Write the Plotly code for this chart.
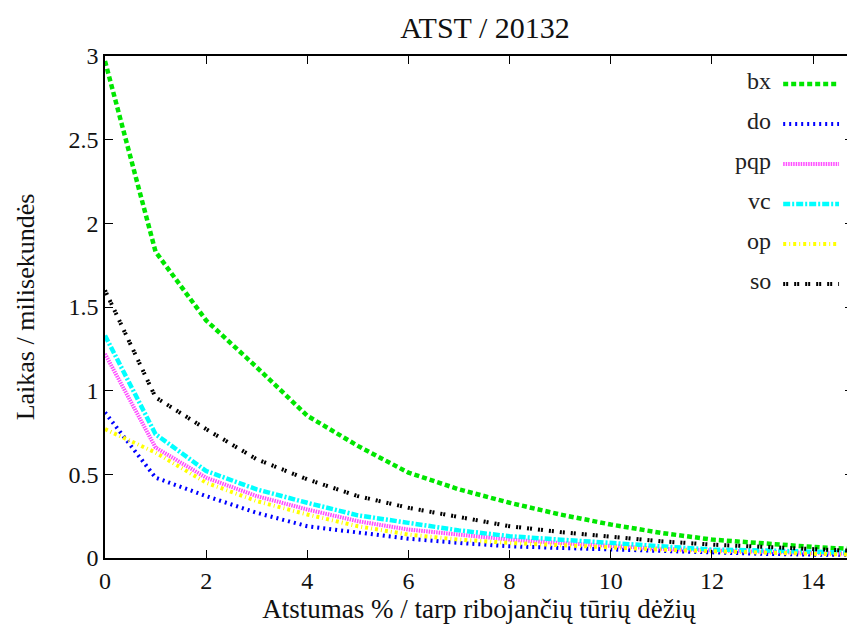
import plotly.graph_objects as go

x_vals = [0, 1, 2, 3, 4, 5, 6, 7, 8, 9, 10, 11, 12, 13, 14, 15]
bx = [2.97, 1.83, 1.42, 1.14, 0.85, 0.67, 0.51, 0.41, 0.33, 0.26, 0.20, 0.15, 0.11, 0.085, 0.066, 0.05]
do = [0.87, 0.48, 0.37, 0.27, 0.19, 0.15, 0.115, 0.09, 0.07, 0.06, 0.05, 0.04, 0.03, 0.025, 0.02, 0.018]
pqp = [1.22, 0.66, 0.48, 0.37, 0.29, 0.22, 0.17, 0.14, 0.11, 0.09, 0.07, 0.055, 0.045, 0.035, 0.03, 0.025]
vc = [1.33, 0.74, 0.52, 0.41, 0.33, 0.255, 0.21, 0.165, 0.13, 0.11, 0.09, 0.07, 0.05, 0.045, 0.035, 0.03]
op = [0.77, 0.63, 0.45, 0.34, 0.26, 0.19, 0.14, 0.11, 0.09, 0.075, 0.06, 0.05, 0.04, 0.03, 0.025, 0.02]
so = [1.60, 0.96, 0.77, 0.59, 0.47, 0.37, 0.30, 0.245, 0.19, 0.155, 0.125, 0.10, 0.08, 0.065, 0.05, 0.04]

names = ["bx", "do", "pqp", "vc", "op", "so"]
series = [bx, do, pqp, vc, op, so]
colors = ["#00e600", "#0000ff", "#ff4dff", "#00ffff", "#ffff00", "#000000"]
dashes = ["5px,3px", "2px,4px", "1.5px,1px", "7px,2px,2px,2px", "3px,3px,1px,3px", "2px,1px,2px,6px"]
widths = [4.5, 4, 4, 4.5, 4, 4]

FONT = "Liberation Serif, DejaVu Serif, serif"
OFF = 8  # page body margin
W, H = 855 - OFF, 629 - OFF
L, R, T, B = 105 - OFF, 0, 56 - OFF, 71
pw, ph = W - L - R, H - T - B


def px_x(px):
    return (px - OFF - L) / pw


def px_y(py):
    return (H - B - (py - OFF)) / ph


fig = go.Figure()
for n, s, c, d, w in zip(names, series, colors, dashes, widths):
    fig.add_trace(go.Scatter(x=x_vals, y=s, mode="lines", name=n,
                             line=dict(color=c, dash=d, width=w)))

# gnuplot-style legend: label on the left, sample line on the right
shapes = []
annotations = []
for i, (n, c, d, w) in enumerate(zip(names, colors, dashes, widths)):
    py = 84 + 40 * i
    yp = px_y(py)
    shapes.append(dict(type="line", xref="paper", yref="paper",
                       x0=px_x(785), x1=px_x(841), y0=yp, y1=yp,
                       line=dict(color=c, dash=d, width=w)))
    annotations.append(dict(text=n, xref="paper", yref="paper",
                            x=px_x(775), y=yp + 3 / ph, xanchor="right", yanchor="middle",
                            showarrow=False, font=dict(family=FONT, size=24, color="#222")))

fig.update_layout(
    width=W, height=H,
    margin=dict(l=L, r=R, t=T, b=B),
    paper_bgcolor="white", plot_bgcolor="white",
    showlegend=False,
    title=dict(text="ATST / 20132", x=(485 - OFF) / W, xanchor="center", y=1 - (27 - OFF) / H,
               yanchor="middle", font=dict(family=FONT, size=30, color="#111")),
    font=dict(family=FONT, size=24, color="#111"),
    shapes=shapes, annotations=annotations,
)
fig.update_xaxes(range=[0, 14.79], tickvals=[0, 2, 4, 6, 8, 10, 12, 14],
                 ticks="inside", ticklen=8, tickcolor="black", showline=True, linecolor="black",
                 linewidth=1.5, mirror="ticks", showgrid=False, zeroline=False,
                 tickfont=dict(family=FONT, size=24),
                 title=dict(text="Atstumas % / tarp ribojančių tūrių dėžių", standoff=2,
                            font=dict(family=FONT, size=27)))
fig.update_yaxes(range=[0, 3], tickvals=[0, 0.5, 1, 1.5, 2, 2.5, 3],
                 ticktext=["0", "0.5", "1", "1.5", "2", "2.5", "3"],
                 ticks="inside", ticklen=8, tickcolor="black", showline=True, linecolor="black",
                 linewidth=1.5, mirror="ticks", showgrid=False, zeroline=False,
                 tickfont=dict(family=FONT, size=24),
                 title=dict(text="Laikas / milisekundės", standoff=26,
                            font=dict(family=FONT, size=26)))

fig.write_html("out.html")
